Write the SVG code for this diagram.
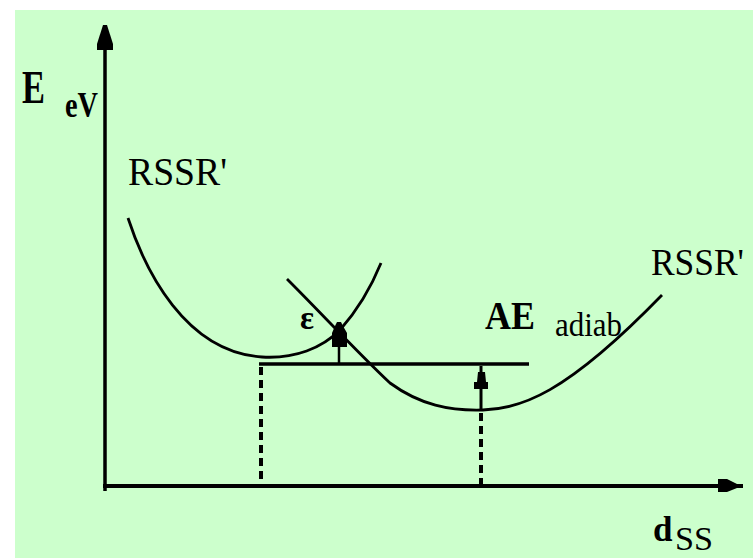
<svg xmlns="http://www.w3.org/2000/svg" width="753" height="558" viewBox="0 0 753 558">
<style>
.t{font-family:"Liberation Serif","Times New Roman",serif;fill:#000}
.b{font-weight:bold}
.ln{fill:none;stroke:#000;stroke-linecap:butt}
.dash{fill:none;stroke:#000;stroke-width:4;stroke-dasharray:8 5}
.ah{fill:#000;stroke:none}
</style>
<rect x="0" y="0" width="753" height="558" fill="#ffffff"/>
<rect x="15" y="10" width="738" height="548" fill="#ccffcc"/>
<g id="axes">
<line class="ln" x1="105" y1="30" x2="105" y2="491" stroke-width="3.5"/>
<line class="ln" x1="103" y1="486" x2="743" y2="486" stroke-width="4"/>
<polygon class="ah" points="103,25 107,25 113,44 113,50 97,50 97,44"/>
<polygon class="ah" points="718,479 727,479 737,484 737,488 727,492 718,492"/>
</g>
<g id="curves">
<path id="reactant" class="ln" stroke-width="2.8" d="M128,218 C145,270 185,352 262,357 C295,359 322,348 340,330 C355,313 370,290 381,263"/>
<path id="product" class="ln" stroke-width="2.8" d="M287,279 C320,312 360,355 390,383 C420,405 450,411 483,410 C520,409 565,395 662,295"/>
</g>
<g id="connectors">
<line class="ln" x1="259" y1="364" x2="529" y2="364" stroke-width="3.5"/>
<line class="dash" x1="261" y1="367" x2="261" y2="485"/>
<line class="dash" x1="481" y1="413" x2="481" y2="485"/>
<line class="ln" x1="339" y1="363" x2="339" y2="330" stroke-width="2.5"/>
<polygon class="ah" points="337,322 341,322 343,326 347,333 347,347 332,347 332,333 335,326"/>
<line class="ln" x1="481" y1="409" x2="481" y2="366" stroke-width="3"/>
<polygon class="ah" points="478,372 485,372 486,382 488,382 488,389 474,389 474,382 477,382"/>
</g>
<g id="labels">
<text class="t b" x="22" y="103" font-size="46" textLength="23" lengthAdjust="spacingAndGlyphs">E</text>
<text class="t b" x="65" y="117" font-size="36" textLength="33" lengthAdjust="spacingAndGlyphs">eV</text>
<text class="t" x="128" y="185" font-size="41" textLength="99" lengthAdjust="spacingAndGlyphs">RSSR'</text>
<text class="t" x="651" y="275" font-size="38" textLength="93" lengthAdjust="spacingAndGlyphs">RSSR'</text>
<text class="t b" x="300" y="329" font-size="34" textLength="14" lengthAdjust="spacingAndGlyphs">ε</text>
<text class="t b" x="485" y="329" font-size="40" textLength="50" lengthAdjust="spacingAndGlyphs">AE</text>
<text class="t" x="555" y="336" font-size="34" textLength="67" lengthAdjust="spacingAndGlyphs">adiab</text>
<text class="t b" x="653" y="541" font-size="35">d</text>
<text class="t" x="675" y="550" font-size="33" textLength="38" lengthAdjust="spacingAndGlyphs">SS</text>
</g>
</svg>
